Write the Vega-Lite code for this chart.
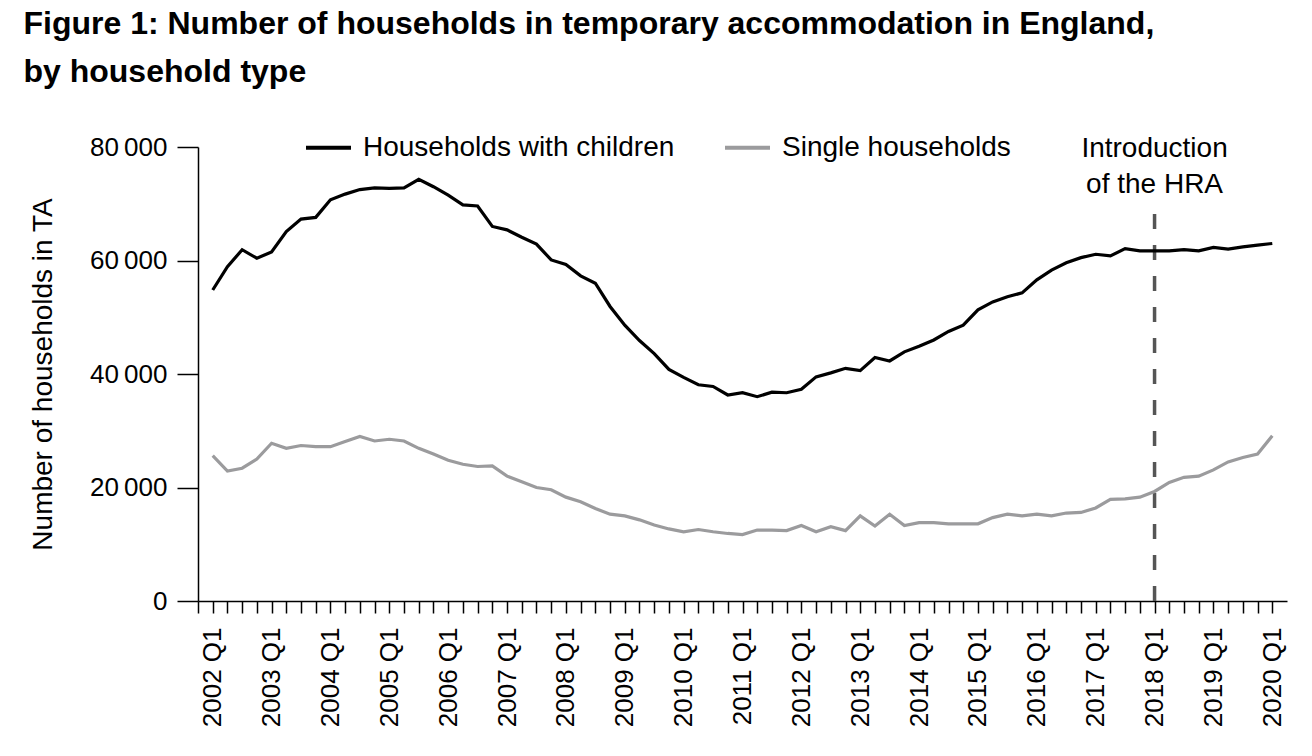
{
  "$schema": "https://vega.github.io/schema/vega-lite/v6.json",
  "width": 1089,
  "height": 454,
  "autosize": {"type": "none"},
  "padding": {"left": 198, "top": 147, "right": 25, "bottom": 155},
  "background": "white",
  "config": {
    "font": "Liberation Sans",
    "view": {"stroke": null},
    "axis": {"grid": false, "domainColor": "#000000", "tickColor": "#000000", "labelColor": "#000000", "titleColor": "#000000", "labelFont": "Liberation Sans", "titleFont": "Liberation Sans", "labelFontSize": 26, "domainWidth": 1.5, "tickWidth": 1.5}
  },
  "title": {
    "text": ["Figure 1: Number of households in temporary accommodation in England,", "by household type"],
    "anchor": "start",
    "frame": "bounds",
    "font": "Liberation Sans",
    "fontSize": 32,
    "fontWeight": "bold",
    "color": "#000000",
    "lineHeight": 48,
    "offset": 34,
    "dx": -6
  },
  "data": {
    "values": [
      {"quarter": "2002 Q1", "t": 2002, "type": "Households with children", "households": 54800},
      {"quarter": "2002 Q2", "t": 2002.25, "type": "Households with children", "households": 58900},
      {"quarter": "2002 Q3", "t": 2002.5, "type": "Households with children", "households": 61900},
      {"quarter": "2002 Q4", "t": 2002.75, "type": "Households with children", "households": 60400},
      {"quarter": "2003 Q1", "t": 2003, "type": "Households with children", "households": 61500},
      {"quarter": "2003 Q2", "t": 2003.25, "type": "Households with children", "households": 65100},
      {"quarter": "2003 Q3", "t": 2003.5, "type": "Households with children", "households": 67300},
      {"quarter": "2003 Q4", "t": 2003.75, "type": "Households with children", "households": 67600},
      {"quarter": "2004 Q1", "t": 2004, "type": "Households with children", "households": 70700},
      {"quarter": "2004 Q2", "t": 2004.25, "type": "Households with children", "households": 71700},
      {"quarter": "2004 Q3", "t": 2004.5, "type": "Households with children", "households": 72500},
      {"quarter": "2004 Q4", "t": 2004.75, "type": "Households with children", "households": 72800},
      {"quarter": "2005 Q1", "t": 2005, "type": "Households with children", "households": 72700},
      {"quarter": "2005 Q2", "t": 2005.25, "type": "Households with children", "households": 72800},
      {"quarter": "2005 Q3", "t": 2005.5, "type": "Households with children", "households": 74300},
      {"quarter": "2005 Q4", "t": 2005.75, "type": "Households with children", "households": 73000},
      {"quarter": "2006 Q1", "t": 2006, "type": "Households with children", "households": 71500},
      {"quarter": "2006 Q2", "t": 2006.25, "type": "Households with children", "households": 69800},
      {"quarter": "2006 Q3", "t": 2006.5, "type": "Households with children", "households": 69600},
      {"quarter": "2006 Q4", "t": 2006.75, "type": "Households with children", "households": 66000},
      {"quarter": "2007 Q1", "t": 2007, "type": "Households with children", "households": 65400},
      {"quarter": "2007 Q2", "t": 2007.25, "type": "Households with children", "households": 64100},
      {"quarter": "2007 Q3", "t": 2007.5, "type": "Households with children", "households": 62900},
      {"quarter": "2007 Q4", "t": 2007.75, "type": "Households with children", "households": 60100},
      {"quarter": "2008 Q1", "t": 2008, "type": "Households with children", "households": 59300},
      {"quarter": "2008 Q2", "t": 2008.25, "type": "Households with children", "households": 57300},
      {"quarter": "2008 Q3", "t": 2008.5, "type": "Households with children", "households": 56000},
      {"quarter": "2008 Q4", "t": 2008.75, "type": "Households with children", "households": 51900},
      {"quarter": "2009 Q1", "t": 2009, "type": "Households with children", "households": 48600},
      {"quarter": "2009 Q2", "t": 2009.25, "type": "Households with children", "households": 45900},
      {"quarter": "2009 Q3", "t": 2009.5, "type": "Households with children", "households": 43600},
      {"quarter": "2009 Q4", "t": 2009.75, "type": "Households with children", "households": 40800},
      {"quarter": "2010 Q1", "t": 2010, "type": "Households with children", "households": 39400},
      {"quarter": "2010 Q2", "t": 2010.25, "type": "Households with children", "households": 38100},
      {"quarter": "2010 Q3", "t": 2010.5, "type": "Households with children", "households": 37800},
      {"quarter": "2010 Q4", "t": 2010.75, "type": "Households with children", "households": 36300},
      {"quarter": "2011 Q1", "t": 2011, "type": "Households with children", "households": 36700},
      {"quarter": "2011 Q2", "t": 2011.25, "type": "Households with children", "households": 36000},
      {"quarter": "2011 Q3", "t": 2011.5, "type": "Households with children", "households": 36800},
      {"quarter": "2011 Q4", "t": 2011.75, "type": "Households with children", "households": 36700},
      {"quarter": "2012 Q1", "t": 2012, "type": "Households with children", "households": 37300},
      {"quarter": "2012 Q2", "t": 2012.25, "type": "Households with children", "households": 39500},
      {"quarter": "2012 Q3", "t": 2012.5, "type": "Households with children", "households": 40200},
      {"quarter": "2012 Q4", "t": 2012.75, "type": "Households with children", "households": 41000},
      {"quarter": "2013 Q1", "t": 2013, "type": "Households with children", "households": 40600},
      {"quarter": "2013 Q2", "t": 2013.25, "type": "Households with children", "households": 42900},
      {"quarter": "2013 Q3", "t": 2013.5, "type": "Households with children", "households": 42300},
      {"quarter": "2013 Q4", "t": 2013.75, "type": "Households with children", "households": 43900},
      {"quarter": "2014 Q1", "t": 2014, "type": "Households with children", "households": 44900},
      {"quarter": "2014 Q2", "t": 2014.25, "type": "Households with children", "households": 46000},
      {"quarter": "2014 Q3", "t": 2014.5, "type": "Households with children", "households": 47500},
      {"quarter": "2014 Q4", "t": 2014.75, "type": "Households with children", "households": 48600},
      {"quarter": "2015 Q1", "t": 2015, "type": "Households with children", "households": 51300},
      {"quarter": "2015 Q2", "t": 2015.25, "type": "Households with children", "households": 52700},
      {"quarter": "2015 Q3", "t": 2015.5, "type": "Households with children", "households": 53600},
      {"quarter": "2015 Q4", "t": 2015.75, "type": "Households with children", "households": 54300},
      {"quarter": "2016 Q1", "t": 2016, "type": "Households with children", "households": 56600},
      {"quarter": "2016 Q2", "t": 2016.25, "type": "Households with children", "households": 58300},
      {"quarter": "2016 Q3", "t": 2016.5, "type": "Households with children", "households": 59600},
      {"quarter": "2016 Q4", "t": 2016.75, "type": "Households with children", "households": 60500},
      {"quarter": "2017 Q1", "t": 2017, "type": "Households with children", "households": 61100},
      {"quarter": "2017 Q2", "t": 2017.25, "type": "Households with children", "households": 60800},
      {"quarter": "2017 Q3", "t": 2017.5, "type": "Households with children", "households": 62100},
      {"quarter": "2017 Q4", "t": 2017.75, "type": "Households with children", "households": 61700},
      {"quarter": "2018 Q1", "t": 2018, "type": "Households with children", "households": 61700},
      {"quarter": "2018 Q2", "t": 2018.25, "type": "Households with children", "households": 61700},
      {"quarter": "2018 Q3", "t": 2018.5, "type": "Households with children", "households": 61900},
      {"quarter": "2018 Q4", "t": 2018.75, "type": "Households with children", "households": 61700},
      {"quarter": "2019 Q1", "t": 2019, "type": "Households with children", "households": 62300},
      {"quarter": "2019 Q2", "t": 2019.25, "type": "Households with children", "households": 62000},
      {"quarter": "2019 Q3", "t": 2019.5, "type": "Households with children", "households": 62400},
      {"quarter": "2019 Q4", "t": 2019.75, "type": "Households with children", "households": 62700},
      {"quarter": "2020 Q1", "t": 2020, "type": "Households with children", "households": 63000},
      {"quarter": "2002 Q1", "t": 2002, "type": "Single households", "households": 25600},
      {"quarter": "2002 Q2", "t": 2002.25, "type": "Single households", "households": 22900},
      {"quarter": "2002 Q3", "t": 2002.5, "type": "Single households", "households": 23400},
      {"quarter": "2002 Q4", "t": 2002.75, "type": "Single households", "households": 25000},
      {"quarter": "2003 Q1", "t": 2003, "type": "Single households", "households": 27800},
      {"quarter": "2003 Q2", "t": 2003.25, "type": "Single households", "households": 26900},
      {"quarter": "2003 Q3", "t": 2003.5, "type": "Single households", "households": 27400},
      {"quarter": "2003 Q4", "t": 2003.75, "type": "Single households", "households": 27200},
      {"quarter": "2004 Q1", "t": 2004, "type": "Single households", "households": 27200},
      {"quarter": "2004 Q2", "t": 2004.25, "type": "Single households", "households": 28100},
      {"quarter": "2004 Q3", "t": 2004.5, "type": "Single households", "households": 29000},
      {"quarter": "2004 Q4", "t": 2004.75, "type": "Single households", "households": 28200},
      {"quarter": "2005 Q1", "t": 2005, "type": "Single households", "households": 28500},
      {"quarter": "2005 Q2", "t": 2005.25, "type": "Single households", "households": 28200},
      {"quarter": "2005 Q3", "t": 2005.5, "type": "Single households", "households": 26900},
      {"quarter": "2005 Q4", "t": 2005.75, "type": "Single households", "households": 25900},
      {"quarter": "2006 Q1", "t": 2006, "type": "Single households", "households": 24800},
      {"quarter": "2006 Q2", "t": 2006.25, "type": "Single households", "households": 24100},
      {"quarter": "2006 Q3", "t": 2006.5, "type": "Single households", "households": 23700},
      {"quarter": "2006 Q4", "t": 2006.75, "type": "Single households", "households": 23800},
      {"quarter": "2007 Q1", "t": 2007, "type": "Single households", "households": 22000},
      {"quarter": "2007 Q2", "t": 2007.25, "type": "Single households", "households": 21000},
      {"quarter": "2007 Q3", "t": 2007.5, "type": "Single households", "households": 20000},
      {"quarter": "2007 Q4", "t": 2007.75, "type": "Single households", "households": 19600},
      {"quarter": "2008 Q1", "t": 2008, "type": "Single households", "households": 18300},
      {"quarter": "2008 Q2", "t": 2008.25, "type": "Single households", "households": 17500},
      {"quarter": "2008 Q3", "t": 2008.5, "type": "Single households", "households": 16300},
      {"quarter": "2008 Q4", "t": 2008.75, "type": "Single households", "households": 15300},
      {"quarter": "2009 Q1", "t": 2009, "type": "Single households", "households": 15000},
      {"quarter": "2009 Q2", "t": 2009.25, "type": "Single households", "households": 14300},
      {"quarter": "2009 Q3", "t": 2009.5, "type": "Single households", "households": 13400},
      {"quarter": "2009 Q4", "t": 2009.75, "type": "Single households", "households": 12700},
      {"quarter": "2010 Q1", "t": 2010, "type": "Single households", "households": 12200},
      {"quarter": "2010 Q2", "t": 2010.25, "type": "Single households", "households": 12600},
      {"quarter": "2010 Q3", "t": 2010.5, "type": "Single households", "households": 12200},
      {"quarter": "2010 Q4", "t": 2010.75, "type": "Single households", "households": 11900},
      {"quarter": "2011 Q1", "t": 2011, "type": "Single households", "households": 11700},
      {"quarter": "2011 Q2", "t": 2011.25, "type": "Single households", "households": 12500},
      {"quarter": "2011 Q3", "t": 2011.5, "type": "Single households", "households": 12500},
      {"quarter": "2011 Q4", "t": 2011.75, "type": "Single households", "households": 12400},
      {"quarter": "2012 Q1", "t": 2012, "type": "Single households", "households": 13300},
      {"quarter": "2012 Q2", "t": 2012.25, "type": "Single households", "households": 12200},
      {"quarter": "2012 Q3", "t": 2012.5, "type": "Single households", "households": 13100},
      {"quarter": "2012 Q4", "t": 2012.75, "type": "Single households", "households": 12400},
      {"quarter": "2013 Q1", "t": 2013, "type": "Single households", "households": 15000},
      {"quarter": "2013 Q2", "t": 2013.25, "type": "Single households", "households": 13200},
      {"quarter": "2013 Q3", "t": 2013.5, "type": "Single households", "households": 15300},
      {"quarter": "2013 Q4", "t": 2013.75, "type": "Single households", "households": 13300},
      {"quarter": "2014 Q1", "t": 2014, "type": "Single households", "households": 13800},
      {"quarter": "2014 Q2", "t": 2014.25, "type": "Single households", "households": 13800},
      {"quarter": "2014 Q3", "t": 2014.5, "type": "Single households", "households": 13600},
      {"quarter": "2014 Q4", "t": 2014.75, "type": "Single households", "households": 13600},
      {"quarter": "2015 Q1", "t": 2015, "type": "Single households", "households": 13600},
      {"quarter": "2015 Q2", "t": 2015.25, "type": "Single households", "households": 14700},
      {"quarter": "2015 Q3", "t": 2015.5, "type": "Single households", "households": 15300},
      {"quarter": "2015 Q4", "t": 2015.75, "type": "Single households", "households": 15000},
      {"quarter": "2016 Q1", "t": 2016, "type": "Single households", "households": 15300},
      {"quarter": "2016 Q2", "t": 2016.25, "type": "Single households", "households": 15000},
      {"quarter": "2016 Q3", "t": 2016.5, "type": "Single households", "households": 15500},
      {"quarter": "2016 Q4", "t": 2016.75, "type": "Single households", "households": 15600},
      {"quarter": "2017 Q1", "t": 2017, "type": "Single households", "households": 16400},
      {"quarter": "2017 Q2", "t": 2017.25, "type": "Single households", "households": 17900},
      {"quarter": "2017 Q3", "t": 2017.5, "type": "Single households", "households": 18000},
      {"quarter": "2017 Q4", "t": 2017.75, "type": "Single households", "households": 18300},
      {"quarter": "2018 Q1", "t": 2018, "type": "Single households", "households": 19300},
      {"quarter": "2018 Q2", "t": 2018.25, "type": "Single households", "households": 20900},
      {"quarter": "2018 Q3", "t": 2018.5, "type": "Single households", "households": 21800},
      {"quarter": "2018 Q4", "t": 2018.75, "type": "Single households", "households": 22000},
      {"quarter": "2019 Q1", "t": 2019, "type": "Single households", "households": 23100},
      {"quarter": "2019 Q2", "t": 2019.25, "type": "Single households", "households": 24500},
      {"quarter": "2019 Q3", "t": 2019.5, "type": "Single households", "households": 25300},
      {"quarter": "2019 Q4", "t": 2019.75, "type": "Single households", "households": 25900},
      {"quarter": "2020 Q1", "t": 2020, "type": "Single households", "households": 29100}
    ]
  },
  "layer": [
    {
      "data": {"values": [{"event": "Introduction of the HRA"}]},
      "mark": {"type": "rule", "color": "#555555", "strokeWidth": 3.5, "strokeDash": [15, 16]},
      "encoding": {
        "x": {"datum": 2018, "type": "quantitative"},
        "y": {"datum": 0, "type": "quantitative"},
        "y2": {"datum": 70000}
      }
    },
    {
      "mark": {"type": "line", "strokeWidth": 3.2},
      "encoding": {
        "x": {
          "field": "t",
          "type": "quantitative",
          "scale": {"domain": [2001.75, 2020.25], "nice": false, "zero": false},
          "axis": {
            "title": null,
            "values": [2001.75, 2002, 2002.25, 2002.5, 2002.75, 2003, 2003.25, 2003.5, 2003.75, 2004, 2004.25, 2004.5, 2004.75, 2005, 2005.25, 2005.5, 2005.75, 2006, 2006.25, 2006.5, 2006.75, 2007, 2007.25, 2007.5, 2007.75, 2008, 2008.25, 2008.5, 2008.75, 2009, 2009.25, 2009.5, 2009.75, 2010, 2010.25, 2010.5, 2010.75, 2011, 2011.25, 2011.5, 2011.75, 2012, 2012.25, 2012.5, 2012.75, 2013, 2013.25, 2013.5, 2013.75, 2014, 2014.25, 2014.5, 2014.75, 2015, 2015.25, 2015.5, 2015.75, 2016, 2016.25, 2016.5, 2016.75, 2017, 2017.25, 2017.5, 2017.75, 2018, 2018.25, 2018.5, 2018.75, 2019, 2019.25, 2019.5, 2019.75, 2020],
            "tickCount": 200,
            "labelExpr": "datum.value % 1 == 0 ? datum.value + ' Q1' : ''",
            "labelAngle": 270,
            "labelAlign": "right",
            "labelBaseline": "middle",
            "labelPadding": 14,
            "tickSize": 12,
            "labelOverlap": false,
            "labelFlush": false,
            "labelBound": false
          }
        },
        "y": {
          "field": "households",
          "type": "quantitative",
          "scale": {"domain": [0, 80000], "nice": false},
          "axis": {
            "title": "Number of households in TA",
            "titleFontSize": 28,
            "titleFontWeight": "normal",
            "titlePadding": 32,
            "values": [0, 20000, 40000, 60000, 80000],
            "labelExpr": "replace(format(datum.value, ',d'), ',', '\u2009')",
            "tickSize": 21,
            "labelPadding": 10
          }
        },
        "color": {
          "field": "type",
          "type": "nominal",
          "scale": {"domain": ["Households with children", "Single households"], "range": ["#000000", "#9b9b9d"]},
          "legend": {
            "title": null,
            "orient": "none",
            "direction": "horizontal",
            "legendX": 106,
            "legendY": -24,
            "symbolType": "stroke",
            "symbolSize": 2025,
            "symbolStrokeWidth": 4,
            "labelFontSize": 28,
            "labelFont": "Liberation Sans",
            "labelColor": "#000000",
            "labelOffset": 10,
            "labelLimit": 0,
            "columnPadding": 42,
            "padding": 0
          }
        }
      }
    },
    {
      "data": {"values": [{"event": "Introduction of the HRA"}]},
      "mark": {"type": "text", "text": ["Introduction", "of the HRA"], "align": "center", "baseline": "alphabetic", "fontSize": 28, "lineHeight": 36, "dy": 10, "color": "#000000", "font": "Liberation Sans"},
      "encoding": {
        "x": {"datum": 2018, "type": "quantitative"},
        "y": {"datum": 80000, "type": "quantitative"}
      }
    }
  ]
}
